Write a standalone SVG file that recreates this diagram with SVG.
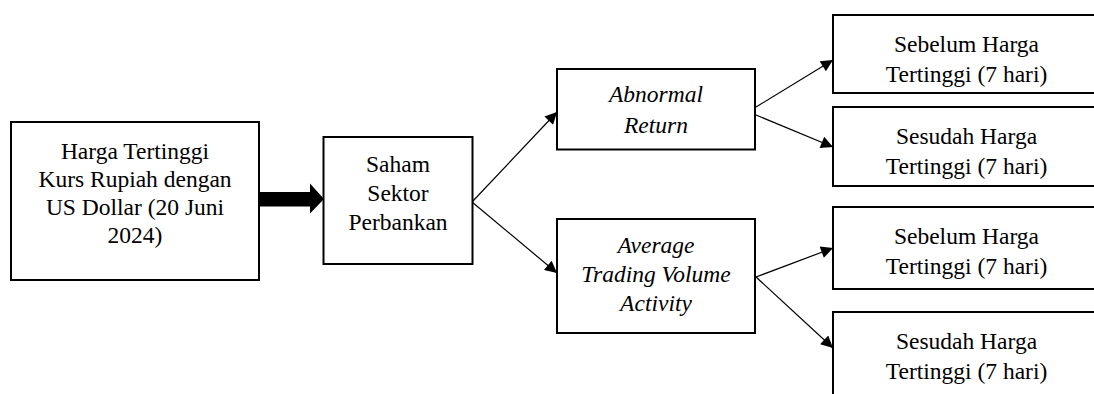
<svg xmlns="http://www.w3.org/2000/svg" width="1094" height="394" viewBox="0 0 1094 394">
<style>
.box{fill:#fff;stroke:#000;stroke-width:2}
.t{font-family:"Liberation Serif","Times New Roman",serif;font-size:23.5px;fill:#000;text-anchor:middle}
.i{font-style:italic}
.c{stroke:#000;stroke-width:1.2;fill:none}
</style>
<defs>
<marker id="ah" viewBox="0 0 10 10" refX="10" refY="5" markerWidth="17" markerHeight="12" markerUnits="userSpaceOnUse" orient="auto">
<path d="M0,0 L10,5 L0,10 Z" fill="#000"/>
</marker>
</defs>
<rect width="1094" height="394" fill="#fff"/>
<g id="connectors">
<path d="M259,192 H310 V183.5 L324,199 L310,213.5 V206.5 H259 Z" fill="#000"/>
<line class="c" x1="472" y1="202" x2="557" y2="112" marker-end="url(#ah)"/>
<line class="c" x1="472" y1="202" x2="557" y2="273" marker-end="url(#ah)"/>
<line class="c" x1="756" y1="107" x2="833" y2="60" marker-end="url(#ah)"/>
<line class="c" x1="756" y1="115" x2="833" y2="147" marker-end="url(#ah)"/>
<line class="c" x1="756" y1="277" x2="833" y2="248" marker-end="url(#ah)"/>
<line class="c" x1="756" y1="277" x2="833" y2="348" marker-end="url(#ah)"/>
</g>
<g id="n1">
<rect class="box" x="11" y="122" width="248" height="158"/>
<text class="t" x="135" y="159">Harga Tertinggi</text>
<text class="t" x="135" y="187">Kurs Rupiah dengan</text>
<text class="t" x="135" y="215">US Dollar (20 Juni</text>
<text class="t" x="135" y="242.5">2024)</text>
</g>
<g id="n2">
<rect class="box" x="323.5" y="137" width="149" height="127"/>
<text class="t" x="398" y="171.5">Saham</text>
<text class="t" x="398" y="201">Sektor</text>
<text class="t" x="398" y="230">Perbankan</text>
</g>
<g id="n3">
<rect class="box" x="557" y="69" width="198" height="80.5"/>
<text class="t i" x="656" y="101.5">Abnormal</text>
<text class="t i" x="656" y="132.5">Return</text>
</g>
<g id="n4">
<rect class="box" x="557" y="219" width="198" height="114"/>
<text class="t i" x="656" y="253">Average</text>
<text class="t i" x="656" y="282">Trading Volume</text>
<text class="t i" x="656" y="310.5">Activity</text>
</g>
<g id="n5">
<rect class="box" x="833" y="15" width="267" height="78"/>
<text class="t" x="966.5" y="51.5">Sebelum Harga</text>
<text class="t" x="966.5" y="81.5">Tertinggi (7 hari)</text>
</g>
<g id="n6">
<rect class="box" x="833" y="107" width="267" height="79"/>
<text class="t" x="966.5" y="144">Sesudah Harga</text>
<text class="t" x="966.5" y="174">Tertinggi (7 hari)</text>
</g>
<g id="n7">
<rect class="box" x="833" y="207" width="267" height="82"/>
<text class="t" x="966.5" y="244">Sebelum Harga</text>
<text class="t" x="966.5" y="273.5">Tertinggi (7 hari)</text>
</g>
<g id="n8">
<rect class="box" x="833" y="312" width="267" height="90"/>
<text class="t" x="966.5" y="349">Sesudah Harga</text>
<text class="t" x="966.5" y="378.5">Tertinggi (7 hari)</text>
</g>
</svg>
